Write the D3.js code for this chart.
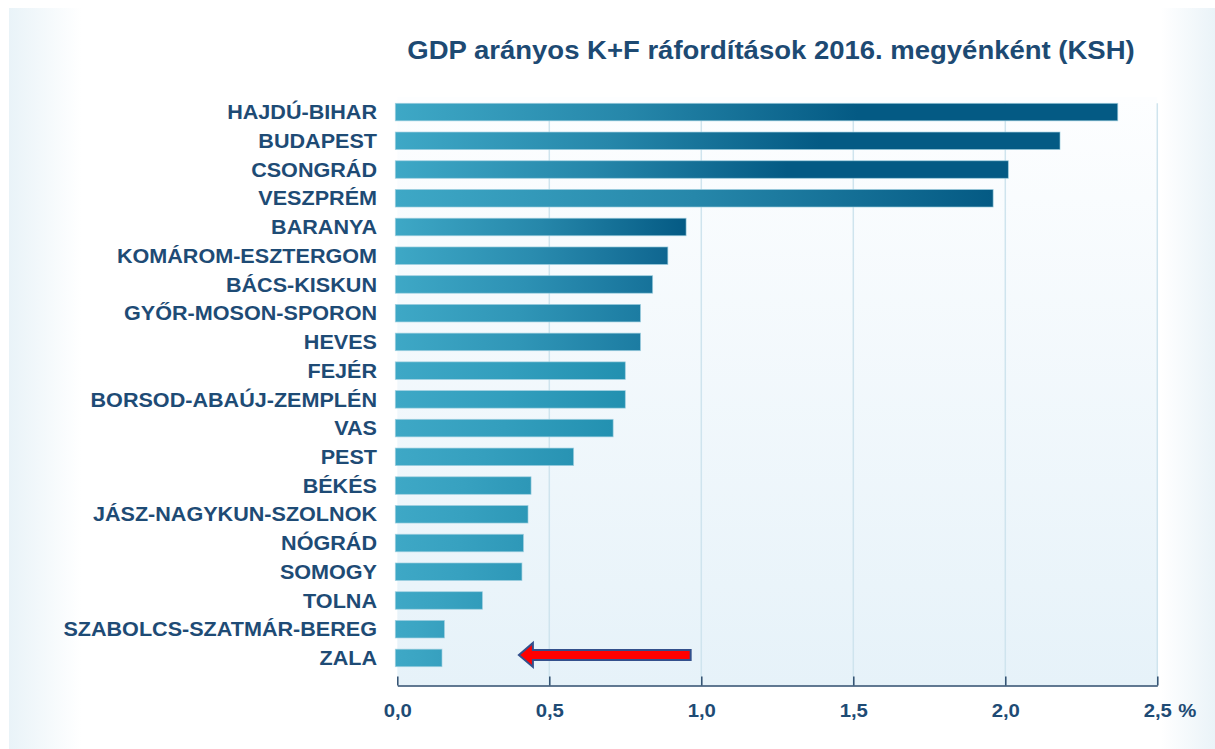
<!DOCTYPE html>
<html>
<head>
<meta charset="utf-8">
<script src="https://cdn.jsdelivr.net/npm/d3@7"></script>
<style>
  html, body { margin: 0; padding: 0; background: #ffffff; }
  svg { display: block; }
  text { font-family: "Liberation Sans", Arial, sans-serif; font-weight: bold; }
</style>
</head>
<body>
<svg id="chart" width="1215" height="749"></svg>
<script>
// ---- data ----
const title = "GDP arányos K+F ráfordítások 2016. megyénként (KSH)";
const categories = [
  "HAJDÚ-BIHAR", "BUDAPEST", "CSONGRÁD", "VESZPRÉM", "BARANYA",
  "KOMÁROM-ESZTERGOM", "BÁCS-KISKUN", "GYŐR-MOSON-SPORON", "HEVES", "FEJÉR",
  "BORSOD-ABAÚJ-ZEMPLÉN", "VAS", "PEST", "BÉKÉS", "JÁSZ-NAGYKUN-SZOLNOK",
  "NÓGRÁD", "SOMOGY", "TOLNA", "SZABOLCS-SZATMÁR-BEREG", "ZALA"
];
const values = [
  2.37, 2.18, 2.01, 1.96, 0.95,
  0.89, 0.84, 0.80, 0.80, 0.75,
  0.75, 0.71, 0.58, 0.44, 0.43,
  0.415, 0.41, 0.28, 0.155, 0.147
];
const tickValues = [0, 0.5, 1.0, 1.5, 2.0, 2.5];
const tickLabels = ["0,0", "0,5", "1,0", "1,5", "2,0", "2,5"];
const unitLabel = "%";
const arrowCategory = "ZALA";
const arrowFrom = 0.965;   // tail (data units)
const arrowTo = 0.40;      // tip (data units)

// ---- layout ----
const svg = d3.select("#chart");
const W = 1215, H = 749;
const x = d3.scaleLinear().domain([0, 2.5]).range([397.3, 1157.3]);
const y = d3.scaleBand().domain(categories).range([97.7, 672.3])
  .paddingInner(0.39).paddingOuter(0.195);
const axisY = 685.5;
const plotTop = 97;
const textColor = "#1e4b75";

const defs = svg.append("defs");

// page background gradient
const bgG = defs.append("linearGradient").attr("id", "pageBg")
  .attr("x1", 0).attr("x2", 1).attr("y1", 0).attr("y2", 0);
bgG.append("stop").attr("offset", 0).attr("stop-color", "#e9f3f8");
bgG.append("stop").attr("offset", 0.06).attr("stop-color", "#ffffff");
bgG.append("stop").attr("offset", 0.955).attr("stop-color", "#ffffff");
bgG.append("stop").attr("offset", 1).attr("stop-color", "#eaf3f8");

// plot background gradient
const plG = defs.append("linearGradient").attr("id", "plotBg")
  .attr("x1", 0).attr("x2", 0).attr("y1", 0).attr("y2", 1);
plG.append("stop").attr("offset", 0).attr("stop-color", "#fdfeff");
plG.append("stop").attr("offset", 1).attr("stop-color", "#e6f2f9");

svg.append("rect").attr("x", 9).attr("y", 8).attr("width", W - 9).attr("height", H - 8)
  .attr("fill", "url(#pageBg)");

svg.append("rect")
  .attr("x", x(0)).attr("y", plotTop)
  .attr("width", x(2.5) - x(0)).attr("height", axisY - plotTop)
  .attr("fill", "url(#plotBg)");

// gridlines
const gridTop = y(categories[0]);
svg.append("g").selectAll("line")
  .data(tickValues.filter(d => d > 0))
  .join("line")
  .attr("x1", d => x(d)).attr("x2", d => x(d))
  .attr("y1", gridTop).attr("y2", axisY)
  .attr("stroke", "#cfe4ee").attr("stroke-width", 1.5);

// bar gradients (per bar)
const endColor = d3.scaleLinear()
  .domain([0.15, 0.58, 0.75, 0.80, 0.89, 0.95])
  .range(["#37a0bf", "#2893b3", "#2290b0", "#1c7ca2", "#0f6690", "#045a84"])
  .clamp(true);
const startColor = "#3ea8c6";

categories.forEach((c, i) => {
  const v = values[i];
  const g = defs.append("linearGradient").attr("id", "barG" + i)
    .attr("x1", 0).attr("x2", 1).attr("y1", 0).attr("y2", 0);
  const darkAt = v > 2.0 ? 0.64 : 1;
  g.append("stop").attr("offset", 0).attr("stop-color", startColor);
  g.append("stop").attr("offset", darkAt * 0.5).attr("stop-color",
    d3.interpolateRgb(startColor, endColor(v))(0.42));
  g.append("stop").attr("offset", darkAt).attr("stop-color", endColor(v));
  g.append("stop").attr("offset", 1).attr("stop-color", endColor(v));
});

// bars
svg.append("g").selectAll("rect")
  .data(categories)
  .join("rect")
  .attr("x", x(0) - 2)
  .attr("y", c => y(c))
  .attr("width", (c, i) => x(values[i]) - x(0) + 2)
  .attr("height", y.bandwidth())
  .attr("fill", (c, i) => "url(#barG" + i + ")")
  .attr("stroke", "#9fd0e0").attr("stroke-width", 0.8).attr("stroke-opacity", 0.8);

// category labels (slightly widened like the original)
svg.append("g").selectAll("text")
  .data(categories)
  .join("text")
  .attr("transform", c => `translate(377,${y(c) + y.bandwidth() / 2}) scale(1.09,1)`)
  .attr("dy", "0.36em")
  .attr("text-anchor", "end")
  .attr("font-size", "19.8px")
  .attr("fill", textColor)
  .text(c => c);

// x axis
const axis = d3.axisBottom(x).tickValues(tickValues).tickSize(0).tickFormat("");
const ax = svg.append("g").attr("transform", `translate(0,${axisY})`).call(axis);
ax.select(".domain").attr("stroke", "#2e4d6e").attr("stroke-width", 1.5);
ax.selectAll(".tick line").remove();
ax.selectAll(".tick").append("line")
  .attr("y1", -9).attr("y2", 0)
  .attr("stroke", "#2e4d6e").attr("stroke-width", 1.5);
ax.selectAll(".tick text").remove();
ax.selectAll(".tick").append("text")
  .attr("transform", "translate(0,31) scale(1.1,1)")
  .attr("text-anchor", "middle")
  .attr("font-size", "18.5px")
  .attr("fill", textColor)
  .text((d, i) => tickLabels[i]);
svg.append("text")
  .attr("transform", `translate(${x(2.5) + 21},${axisY + 31}) scale(1.1,1)`)
  .attr("font-size", "18.5px").attr("fill", textColor)
  .text(unitLabel);

// title
svg.append("text")
  .attr("transform", "translate(771,59) scale(1.1,1)")
  .attr("text-anchor", "middle")
  .attr("font-size", "25px")
  .attr("fill", "#1d4a73")
  .text(title);

// arrow annotation
const ay = y(arrowCategory) + y.bandwidth() / 2 - 3;
const tip = x(arrowTo), tail = x(arrowFrom), headLen = 14, sh = 5, hh = 12;
const pts = [
  [tip, ay], [tip + headLen, ay - hh], [tip + headLen, ay - sh],
  [tail, ay - sh], [tail, ay + sh], [tip + headLen, ay + sh],
  [tip + headLen, ay + hh]
];
svg.append("path")
  .attr("d", d3.line()(pts) + "Z")
  .attr("fill", "#ff0000")
  .attr("stroke", "#33508c").attr("stroke-width", 2)
  .attr("stroke-linejoin", "miter");
</script>
</body>
</html>
